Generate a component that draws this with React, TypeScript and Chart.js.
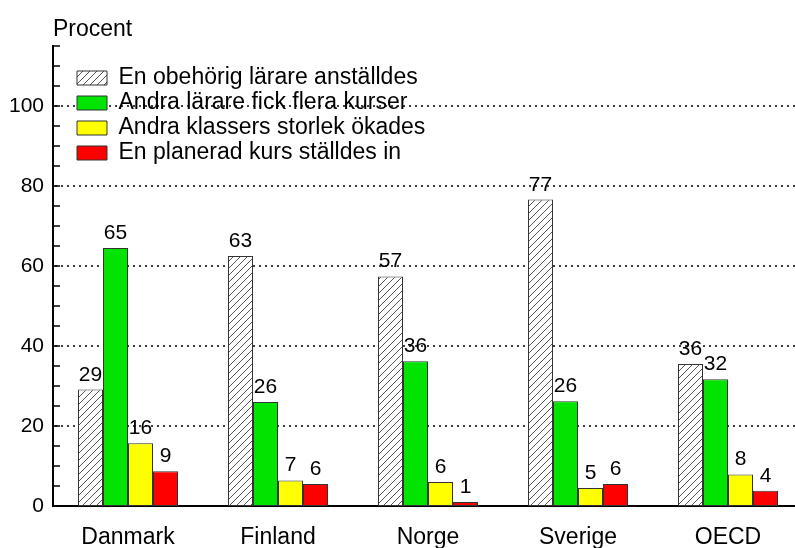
import React, { useEffect, useRef } from "react";
import { Chart, registerables } from "chart.js";

Chart.register(...registerables);

// ---- data ----
const categories = ["Danmark", "Finland", "Norge", "Sverige", "OECD"];
const seriesNames = [
  "En obehörig lärare anställdes",
  "Andra lärare fick flera kurser",
  "Andra klassers storlek ökades",
  "En planerad kurs ställdes in",
];
const unqualifiedHired = [29.1, 62.5, 57.4, 76.6, 35.5];
const moreCourses = [64.5, 26.0, 36.2, 26.2, 31.7];
const largerClasses = [15.7, 6.4, 6.0, 4.5, 7.9];
const courseCancelled = [8.7, 5.5, 1.0, 5.5, 3.8];

const unqualifiedHiredLabels = ["29", "63", "57", "77", "36"];
const moreCoursesLabels = ["65", "26", "36", "26", "32"];
const largerClassesLabels = ["16", "7", "6", "5", "8"];
const courseCancelledLabels = ["9", "6", "1", "6", "4"];

const yAxisTitle = "Procent";
const yMin = 0;
const yMax = 115;
const yMajorTicks = [0, 20, 40, 60, 80, 100];
const yMinorStep = 5;

const FONT = "'Liberation Sans', Arial, sans-serif";

function makeHatch(): CanvasPattern | string {
  const c = document.createElement("canvas");
  const s = 7;
  c.width = s;
  c.height = s;
  const g = c.getContext("2d");
  if (!g) return "#fff";
  g.fillStyle = "#ffffff";
  g.fillRect(0, 0, s, s);
  g.strokeStyle = "#555555";
  g.lineWidth = 1;
  g.beginPath();
  g.moveTo(-1, s + 1);
  g.lineTo(s + 1, -1);
  g.moveTo(-1, 1);
  g.lineTo(1, -1);
  g.moveTo(s - 1, s + 1);
  g.lineTo(s + 1, s - 1);
  g.stroke();
  const p = g.createPattern(c, "repeat");
  return p || "#fff";
}

export default function App() {
  const ref = useRef<HTMLCanvasElement | null>(null);

  useEffect(() => {
    const canvas = ref.current;
    if (!canvas) return;
    const hatch = makeHatch();
    const labelSets = [
      unqualifiedHiredLabels,
      moreCoursesLabels,
      largerClassesLabels,
      courseCancelledLabels,
    ];

    const overlay = {
      id: "overlay",
      afterLayout(chart: any) {
        const lg = chart.legend;
        if (!lg) return;
        const w = lg.width;
        const h = lg.height;
        lg.left = chart.chartArea.left + 22;
        lg.top = chart.chartArea.top + 18.5;
        lg.right = lg.left + w;
        lg.bottom = lg.top + h;
      },
      beforeDraw(chart: any) {
        const { ctx, chartArea } = chart;
        const y = chart.scales.y;
        ctx.save();
        ctx.strokeStyle = "#000";
        ctx.lineWidth = 1.6;
        ctx.setLineDash([2, 4]);
        for (const v of yMajorTicks) {
          if (v === 0) continue;
          const py = Math.round(y.getPixelForValue(v));
          ctx.beginPath();
          ctx.moveTo(chartArea.left + 2, py);
          ctx.lineTo(chartArea.right, py);
          ctx.stroke();
        }
        ctx.restore();
      },
      afterDraw(chart: any) {
        const { ctx, chartArea } = chart;
        const y = chart.scales.y;
        ctx.save();
        // minor / major tick marks, pointing inward
        ctx.strokeStyle = "#000";
        ctx.lineWidth = 1.5;
        for (let v = yMin; v <= yMax; v += yMinorStep) {
          const py = Math.round(y.getPixelForValue(v));
          ctx.beginPath();
          ctx.moveTo(chartArea.left, py);
          ctx.lineTo(chartArea.left + 7, py);
          ctx.stroke();
        }
        // value labels
        ctx.fillStyle = "#000";
        ctx.font = `21px ${FONT}`;
        ctx.textAlign = "center";
        ctx.textBaseline = "alphabetic";
        chart.data.datasets.forEach((ds: any, di: number) => {
          const meta = chart.getDatasetMeta(di);
          meta.data.forEach((bar: any, i: number) => {
            ctx.fillText(labelSets[di][i], bar.x, bar.y - 9);
          });
        });
        // axis title
        ctx.textAlign = "left";
        ctx.font = `23px ${FONT}`;
        ctx.fillText(yAxisTitle, chartArea.left, 36);
        ctx.restore();
      },
    };

    const common = { borderColor: "#333333", borderWidth: 1, borderSkipped: false };
    const chart = new Chart(canvas, {
      type: "bar",
      data: {
        labels: categories,
        datasets: [
          { label: seriesNames[0], data: unqualifiedHired, backgroundColor: hatch as any, ...common },
          { label: seriesNames[1], data: moreCourses, backgroundColor: "#00e400", ...common },
          { label: seriesNames[2], data: largerClasses, backgroundColor: "#ffff00", ...common },
          { label: seriesNames[3], data: courseCancelled, backgroundColor: "#ff0000", ...common },
        ],
      },
      options: {
        animation: false,
        responsive: false,
        maintainAspectRatio: false,
        devicePixelRatio: 1,
        layout: { padding: { left: 0, top: 46, right: 7, bottom: 0 } },
        datasets: {
          bar: { categoryPercentage: 100 / 150, barPercentage: 1 },
        },
        plugins: {
          tooltip: { enabled: false },
          legend: {
            position: "chartArea" as any,
            align: "start",
            labels: {
              boxWidth: 30,
              boxHeight: 14,
              padding: 2,
              color: "#000",
              font: { family: FONT, size: 23 },
            },
          },
        },
        scales: {
          x: {
            offset: true,
            grid: { display: false, drawTicks: false },
            border: { display: true, color: "#000", width: 2 },
            ticks: { color: "#000", font: { family: FONT, size: 23 }, padding: 18, maxRotation: 0 },
            afterFit: (s: any) => {
              s.height = 42;
            },
          },
          y: {
            min: yMin,
            max: yMax,
            grid: { display: false, drawTicks: false },
            border: { display: true, color: "#000", width: 2 },
            ticks: {
              stepSize: 20,
              autoSkip: false,
              color: "#000",
              font: { family: FONT, size: 21 },
              padding: 9,
              callback: (v: any) => (yMajorTicks.includes(Number(v)) ? String(v) : ""),
            },
            afterFit: (s: any) => {
              s.width = 53;
            },
          },
        },
      },
      plugins: [overlay],
    } as any);
    return () => chart.destroy();
  }, []);

  return (
    <div style={{ position: "fixed", left: 0, top: 0, width: 795, height: 548, overflow: "hidden", background: "#fff" }}>
      <canvas ref={ref} width={810} height={548} style={{ display: "block", width: 810, height: 548 }} />
    </div>
  );
}
